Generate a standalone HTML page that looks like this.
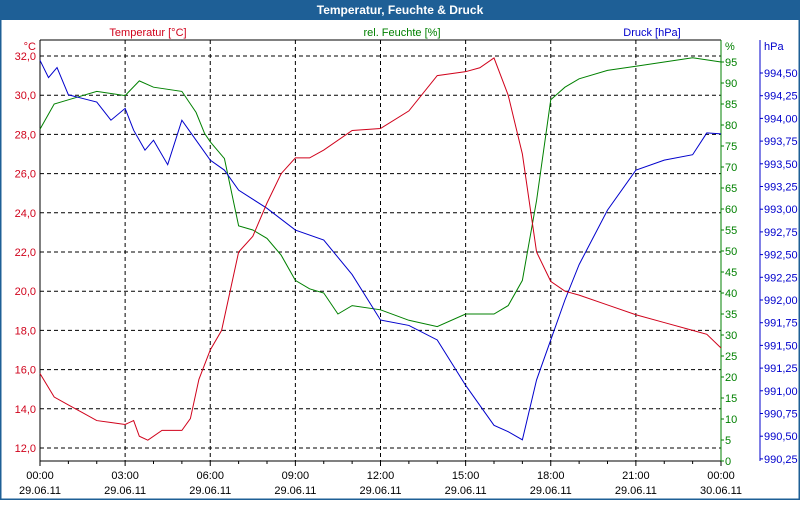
<!DOCTYPE html>
<html><head><meta charset="utf-8"><style>
body{margin:0;width:800px;height:500px;overflow:hidden;background:#fff;font-family:"Liberation Sans",sans-serif}
</style></head><body>
<svg id="c" width="800" height="500" xmlns="http://www.w3.org/2000/svg" font-family="Liberation Sans, sans-serif" font-size="11">
<rect x="0" y="0" width="800" height="500" fill="#fff" stroke="#1e5f96" stroke-width="3"/>
<rect x="0" y="0" width="800" height="20" fill="#1e5f96"/>
<text x="400" y="14" text-anchor="middle" fill="#fff" font-weight="bold" font-size="12">Temperatur, Feuchte &amp; Druck</text>
<text x="148" y="36" text-anchor="middle" fill="#d0021b">Temperatur [°C]</text>
<text x="402" y="36" text-anchor="middle" fill="#008000">rel. Feuchte [%]</text>
<text x="652" y="36" text-anchor="middle" fill="#0000cc">Druck [hPa]</text>
<text x="36" y="50" text-anchor="end" fill="#d0021b">°C</text>
<text x="725" y="50" fill="#008000">%</text>
<text x="764" y="50" fill="#0000cc">hPa</text>
<g id="g"></g>
</svg>
<script>
const hours=[0,0.5,1,1.5,2,2.5,3,3.3,3.5,3.8,4.3,5,5.3,5.6,6,6.4,7,7.5,8,8.5,9,9.5,10,11,12,13,14,15,15.5,16,16.5,17,17.5,18,18.5,19,20,21,22,23,23.5,24];
const temp=[15.8,14.6,14.2,13.8,13.4,13.3,13.2,13.4,12.6,12.4,12.9,12.9,13.5,15.5,17,18,22,22.8,24.5,26,26.8,26.8,27.2,28.2,28.3,29.2,31,31.2,31.4,31.9,30,27,22,20.5,20,19.8,19.3,18.8,18.4,18,17.8,17.1];
const humHours=[0,0.5,1,2,3,3.5,4,5,5.5,5.8,6,6.5,7,7.5,8,8.5,9,9.5,10,10.5,11,12,13,14,15,16,16.5,17,17.5,18,18.5,19,20,21,22,23,24];
const hum=[79,85,86,88,87,90.5,89,88,83,78,76,72,56,55,53,49,43,41,40,35,37,36,33.5,32,35,35,37,43,62,86,89,91,93,94,95,96,95];
const presHours=[0,0.3,0.6,1,1.5,2,2.5,3,3.3,3.7,4,4.5,5,5.5,6,6.5,7,8,9,10,11,12,13,14,15,16,16.5,17,17.5,18,18.5,19,20,21,22,23,23.5,24];
const pres=[994.64,994.45,994.56,994.26,994.22,994.18,993.98,994.11,993.87,993.65,993.76,993.49,993.98,993.76,993.54,993.43,993.21,993.01,992.77,992.66,992.28,991.78,991.72,991.56,991.06,990.62,990.55,990.46,991.12,991.56,992.0,992.39,992.99,993.43,993.54,993.6,993.84,993.83];
const tempTicks=[12,14,16,18,20,22,24,26,28,30,32];
const humTicks=[0,5,10,15,20,25,30,35,40,45,50,55,60,65,70,75,80,85,90,95];
const presTicks=[990.25,990.5,990.75,991,991.25,991.5,991.75,992,992.25,992.5,992.75,993,993.25,993.5,993.75,994,994.25,994.5];
const timeLabels=["00:00","03:00","06:00","09:00","12:00","15:00","18:00","21:00","00:00"];
const dateLabels=["29.06.11","29.06.11","29.06.11","29.06.11","29.06.11","29.06.11","29.06.11","29.06.11","30.06.11"];
const X0=40,X1=721,YT=40,YB=461;
const x=h=>X0+h*(X1-X0)/24;
const yT=t=>448-(t-12)*19.6;
const yH=v=>461-v*4.2;
const yP=p=>73+(994.5-p)*90.8;
const ns="http://www.w3.org/2000/svg",g=document.getElementById('g');
function mk(t,a){const e=document.createElementNS(ns,t);for(const k in a)e.setAttribute(k,a[k]);g.appendChild(e);return e;}
// grid
tempTicks.forEach(t=>{if(t===32||true){const l=mk('line',{x1:X0,x2:X1,y1:yT(t),y2:yT(t),stroke:'#000','stroke-dasharray':'4,3'});

}
const tx=mk('text',{x:36,y:yT(t)+4,'text-anchor':'end',fill:'#d0021b'});tx.textContent=t.toFixed(1).replace('.',',');

});
timeLabels.forEach((s,i)=>{const xx=x(i*3);
if(i>0&&i<8){const l=mk('line',{x1:xx,x2:xx,y1:YT,y2:YB,stroke:'#000','stroke-dasharray':'4,3'});

}
const t1=mk('text',{x:xx,y:479,'text-anchor':'middle',fill:'#000'});t1.textContent=s;


const t2=mk('text',{x:xx,y:494,'text-anchor':'middle',fill:'#000'});t2.textContent=dateLabels[i];

});
for(let h=0;h<=24;h++){const l=mk('line',{x1:x(h),x2:x(h),y1:YB,y2:YB+(h%3?3:5),stroke:'#000'});

}
// axes
let a=mk('path',{d:`M${X0},${YT}V${YB}H${X1}`,stroke:'#000',fill:'none'});


a=mk('line',{x1:X0,x2:X1,y1:YT,y2:YT,stroke:'#000'});


a=mk('line',{x1:X1,x2:X1,y1:YT,y2:YB,stroke:'#008000'});


a=mk('line',{x1:760,x2:760,y1:YT,y2:YB,stroke:'#0000cc'});


humTicks.forEach(v=>{mk('line',{x1:X1,x2:X1+3,y1:yH(v),y2:yH(v),stroke:'#008000'});
const t=mk('text',{x:725,y:yH(v)+4,fill:'#008000'});t.textContent=v;

});
presTicks.forEach(v=>{mk('line',{x1:760,x2:763,y1:yP(v),y2:yP(v),stroke:'#0000cc'});
const t=mk('text',{x:764,y:yP(v)+4,fill:'#0000cc'});t.textContent=v.toFixed(2).replace('.',',');

});
function line(xs,ys,fy,col,name){const p=mk('polyline',{points:xs.map((h,i)=>x(h)+','+fy(ys[i])).join(' '),fill:'none',stroke:col,'stroke-width':1});

}
line(humHours,hum,yH,'#008000','humidity-line');
line(presHours,pres,yP,'#0000cc','pressure-line');
line(hours,temp,yT,'#d0021b','temperature-line');
</script>
</body></html>
